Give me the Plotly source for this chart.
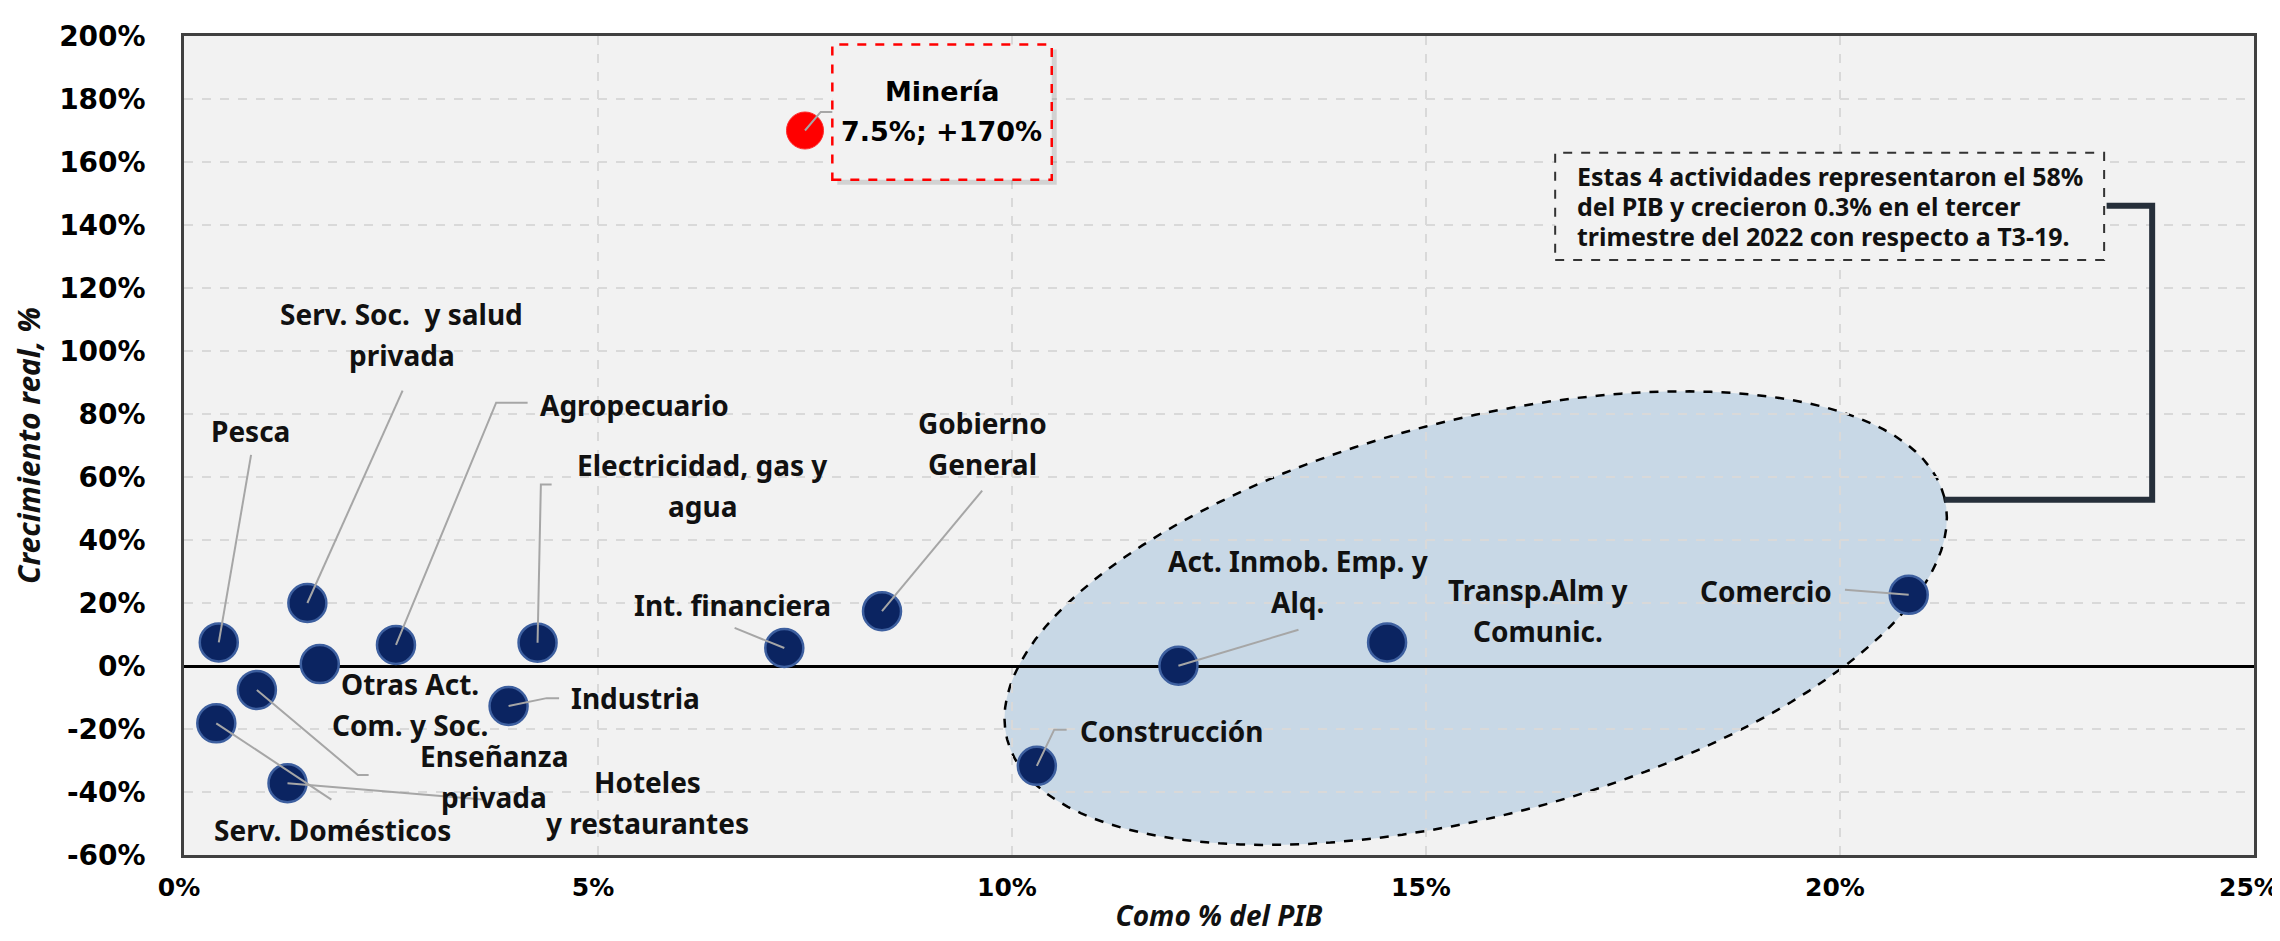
import numpy as np
import plotly.graph_objects as go

# ---------------- data ----------------
sectors = ["Pesca", "Serv. Soc. y salud privada", "Agropecuario", "Electricidad, gas y agua",
           "Int. financiera", "Gobierno General", "Otras Act. Com. y Soc.", "Industria",
           "Enseñanza privada", "Serv. Domésticos", "Hoteles y restaurantes",
           "Act. Inmob. Emp. y Alq.", "Transp.Alm y Comunic.", "Comercio", "Construcción"]
share_pib = [0.42, 1.49, 2.56, 4.27, 7.25, 8.43, 1.64, 3.92, 0.88, 0.39, 1.25, 12.01, 14.53, 20.83, 10.30]
growth = [7.5, 20.0, 6.7, 7.4, 5.7, 17.4, 0.6, -12.7, -7.6, -18.2, -37.2, 0.1, 7.5, 22.6, -31.7]

mineria_name = "Minería"
mineria_share = 7.5
mineria_growth = 170.0

x_ticks = [0, 5, 10, 15, 20, 25]
y_ticks = list(range(-60, 201, 20))
x_ticktext = [f"{v}%" for v in x_ticks]
y_ticktext = [f"{v}%" for v in y_ticks]

label_lines = {
    "Pesca": ["Pesca"],
    "Serv. Soc. y salud privada": ["Serv. Soc.\u00a0 y salud", "privada"],
    "Agropecuario": ["Agropecuario"],
    "Electricidad, gas y agua": ["Electricidad, gas y", "agua"],
    "Int. financiera": ["Int. financiera"],
    "Gobierno General": ["Gobierno", "General"],
    "Otras Act. Com. y Soc.": ["Otras Act.", "Com. y Soc."],
    "Industria": ["Industria"],
    "Enseñanza privada": ["Enseñanza", "privada"],
    "Serv. Domésticos": ["Serv. Domésticos"],
    "Hoteles y restaurantes": ["Hoteles", "y restaurantes"],
    "Act. Inmob. Emp. y Alq.": ["Act. Inmob. Emp. y", "Alq."],
    "Transp.Alm y Comunic.": ["Transp.Alm y", "Comunic."],
    "Comercio": ["Comercio"],
    "Construcción": ["Construcción"],
}
note_lines = ["Estas 4 actividades representaron el 58%",
              "del PIB y crecieron 0.3% en el tercer",
              "trimestre del 2022 con respecto a T3-19."]

# ---------------- label placement (axis units) ----------------
label_pos = {
    "Pesca": (0.80, 74.6),
    "Serv. Soc. y salud privada": (2.63, 105.1),
    "Agropecuario": (5.44, 82.8),
    "Electricidad, gas y agua": (6.26, 57.2),
    "Int. financiera": (6.63, 19.5),
    "Gobierno General": (9.64, 70.7),
    "Otras Act. Com. y Soc.": (2.73, -12.2),
    "Industria": (5.45, -10.2),
    "Enseñanza privada": (3.74, -35.1),
    "Serv. Domésticos": (1.79, -52.1),
    "Hoteles y restaurantes": (5.60, -43.2),
    "Act. Inmob. Emp. y Alq.": (13.45, 26.7),
    "Transp.Alm y Comunic.": (16.35, 17.5),
    "Comercio": (19.11, 23.9),
    "Construcción": (11.93, -20.7),
}
leader = {
    "Pesca": [(0.81, 67.0)],
    "Serv. Soc. y salud privada": [(2.64, 87.4)],
    "Agropecuario": [(3.77, 83.6), (4.15, 83.6)],
    "Electricidad, gas y agua": [(4.31, 57.6), (4.44, 57.6)],
    "Int. financiera": [(6.65, 12.1)],
    "Gobierno General": [(9.64, 55.7)],
    "Otras Act. Com. y Soc.": [],
    "Industria": [(4.38, -10.2), (4.53, -10.2)],
    "Enseñanza privada": [(2.10, -34.6), (2.23, -34.6)],
    "Serv. Domésticos": [(1.78, -42.4)],
    "Hoteles y restaurantes": [(3.61, -42.4)],
    "Act. Inmob. Emp. y Alq.": [(13.46, 11.5)],
    "Transp.Alm y Comunic.": [],
    "Comercio": [(20.06, 24.2)],
    "Construcción": [(10.51, -20.2), (10.66, -20.2)],
}

W, H = 2280, 941
ML, MR, MT, MB = 176, 34, 28, 94
XR = [0, 25]
YR = [-60, 200]
PX_X = (W - ML - MR) / (XR[1] - XR[0])
PX_Y = (H - MT - MB) / (YR[1] - YR[0])

LABEL_FONT = dict(family="Noto Sans, Roboto, sans-serif", size=28, color="#111111", weight="bold")
TICK_FONT = dict(family="DejaVu Sans, Verdana, sans-serif", size=28, color="#000000", weight="bold")
LINE_GAP = 41
LEADER_COLOR = "#a6a6a6"

fig = go.Figure()

# ellipse highlighting the 4 large activities
ecx, ecy = 15.60, 15.2
ea, eb, eth = 484, 198, np.deg2rad(14.5)
t = np.linspace(0, 2 * np.pi, 121)
dx = ea * np.cos(t) * np.cos(eth) - eb * np.sin(t) * np.sin(eth)
dy = ea * np.cos(t) * np.sin(eth) + eb * np.sin(t) * np.cos(eth)
ex = ecx + dx / PX_X
ey = ecy + dy / PX_Y
epath = "M " + " L ".join(f"{a:.4f},{b:.4f}" for a, b in zip(ex, ey)) + " Z"
fig.add_shape(type="path", path=epath, xref="x", yref="y", layer="below",
              fillcolor="#c8d8e6", line=dict(color="#000000", width=2.5, dash="dash"))

# main scatter
fig.add_trace(go.Scatter(
    x=share_pib, y=growth, mode="markers", text=sectors,
    marker=dict(size=38, color="#0b2461", line=dict(color="#3d5f9f", width=2.5)),
    hovertemplate="%{text}: %{x}%; %{y}%<extra></extra>"))
fig.add_trace(go.Scatter(
    x=[mineria_share], y=[mineria_growth], mode="markers", text=[mineria_name],
    marker=dict(size=37, color="#ff0000", line=dict(color="#ff2a2a", width=1)),
    hovertemplate="%{text}: %{x}%; %{y}%<extra></extra>"))

# labels and leader lines
for name, xv, yv in zip(sectors, share_pib, growth):
    lx, ly = label_pos[name]
    lines = label_lines[name]
    n = len(lines)
    for i, txt in enumerate(lines):
        shift = ((n - 1) / 2 - i) * LINE_GAP
        fig.add_annotation(x=lx, y=ly, text=txt, showarrow=False, xref="x", yref="y",
                           xanchor="center", yanchor="middle", yshift=shift, font=LABEL_FONT)
    pts = [(xv, yv)] + leader[name]
    if len(pts) > 1:
        path = "M " + " L ".join(f"{a},{b}" for a, b in pts)
        fig.add_shape(type="path", path=path, xref="x", yref="y", layer="above",
                      line=dict(color=LEADER_COLOR, width=2))

# Minería box
mbx0, mbx1, mby0, mby1 = 7.83, 10.48, 154.4, 197.3
sx, sy = 5 / PX_X, 5 / PX_Y
fig.add_shape(type="rect", x0=mbx0 + sx, x1=mbx1 + sx, y0=mby0 - sy, y1=mby1 - sy, xref="x", yref="y",
              layer="above", fillcolor="rgba(0,0,0,0.13)", line=dict(width=0))
fig.add_shape(type="rect", x0=mbx0, x1=mbx1, y0=mby0, y1=mby1, xref="x", yref="y", layer="above",
              fillcolor="#f2f2f2", line=dict(color="#ff0000", width=2.5, dash="dash"))
mtxt = [mineria_name, f"{mineria_share}%; +{mineria_growth:.0f}%"]
for i, txt in enumerate(mtxt):
    fig.add_annotation(x=9.15, y=175.9, text=txt, showarrow=False, xref="x", yref="y",
                       yshift=(0.5 - i) * 40, font=dict(TICK_FONT, size=27))
fig.add_shape(type="path", path=f"M {mineria_share},{mineria_growth} L 7.69,175.9 L 7.83,175.9",
              xref="x", yref="y", layer="above", line=dict(color=LEADER_COLOR, width=2))

# Note box with bracket
fig.add_shape(type="rect", x0=16.56, x1=23.19, y0=128.9, y1=162.9, xref="x", yref="y", layer="above",
              fillcolor="#f2f2f2", line=dict(color="#333333", width=2, dash="dash"))
for i, txt in enumerate(note_lines):
    fig.add_annotation(x=16.80, y=146.1, xref="x", yref="y", showarrow=False, xanchor="left",
                       yanchor="middle", yshift=(1 - i) * 30, text=txt,
                       font=dict(family="Noto Sans, Roboto, sans-serif", size=25, color="#111111",
                                 weight="bold"))
fig.add_shape(type="path", path="M 21.26,52.8 L 23.77,52.8 L 23.77,146.1 L 23.22,146.1",
              xref="x", yref="y", layer="above", line=dict(color="#262f3a", width=6))

axis_common = dict(showgrid=True, gridcolor="#d9d9d9", griddash="dash", gridwidth=1.5,
                   showline=True, linecolor="#404040", linewidth=2.5, mirror=True,
                   ticks="", tickmode="array")

fig.update_xaxes(range=XR, tickvals=x_ticks, ticktext=x_ticktext, zeroline=False, ticklabelstandoff=8,
                 ticklabelshift=-5, tickfont=dict(TICK_FONT, size=25),
                 title=dict(text="Como % del PIB", standoff=6,
                            font=dict(family="Noto Sans, sans-serif", size=28, color="#111111",
                                      weight="bold", style="italic")),
                 **axis_common)
fig.update_yaxes(range=YR, tickvals=y_ticks, ticktext=y_ticktext, zeroline=True, zerolinecolor="#000000",
                 zerolinewidth=3, ticklabelstandoff=30, tickfont=TICK_FONT,
                 title=dict(text="Crecimiento real, %", standoff=10,
                            font=dict(family="Noto Sans, sans-serif", size=30, color="#111111",
                                      weight="bold", style="italic")),
                 **axis_common)

fig.update_layout(width=W, height=H, margin=dict(l=ML, r=MR, t=MT, b=MB, autoexpand=False),
                  paper_bgcolor="#ffffff", plot_bgcolor="#f2f2f2", showlegend=False)

fig.write_html("out.html")
